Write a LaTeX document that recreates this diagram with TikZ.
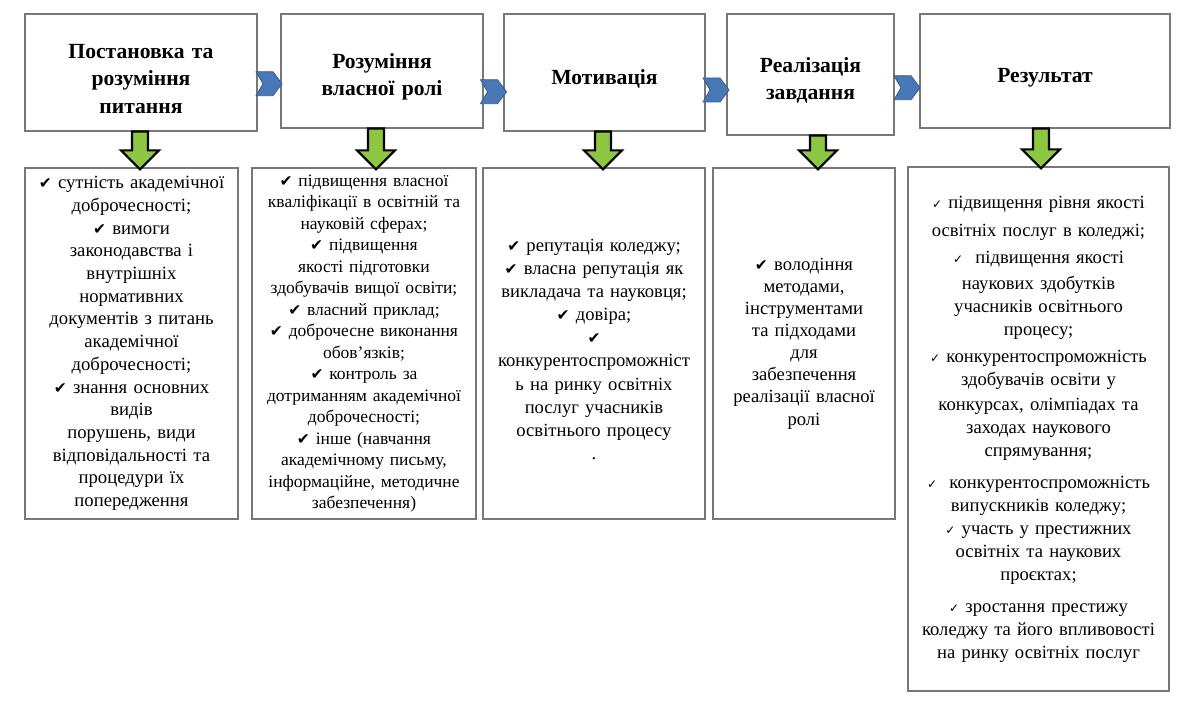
\documentclass[tikz,border=0pt]{standalone}
\usepackage{fontspec}
\setmainfont{Liberation Serif}
\newfontfamily\symf{DejaVu Sans}
\usetikzlibrary{calc}
\definecolor{boxgray}{RGB}{120,120,120}
\definecolor{chevfill}{RGB}{72,120,182}
\definecolor{chevdraw}{RGB}{56,93,138}
\definecolor{grfill}{RGB}{141,198,65}
\newcommand{\ck}{{\symf\fontsize{15.5}{15.5}\selectfont ✔}}
\newcommand{\cks}{{\symf\fontsize{12}{12}\selectfont ✓}}
\newcommand{\garrow}[3]{%
  \draw[garrowst] let \p1=($(#1.south)+(#3,0)$), \p2=(#2.north) in
   (\x1-8pt,\y1) -- (\x1+8pt,\y1) -- (\x1+8pt,\y2+17pt) -- (\x1+19pt,\y2+17pt)
   -- (\x1,\y2-2pt) -- (\x1-19pt,\y2+17pt) -- (\x1-8pt,\y2+17pt) -- cycle;}
\begin{document}
\begin{tikzpicture}[x=1pt,y=-1pt,
  topbox/.style={draw=boxgray, line width=1.2pt, fill=white, align=center,
    font=\fontsize{21.6}{27.5}\selectfont\bfseries, inner sep=2pt,
    execute at begin node={\rule{0pt}{27pt}}},
  botbox/.style={draw=boxgray, line width=1.2pt, fill=white, align=center, inner sep=2pt},
  garrowst/.style={draw=black, line width=2.2pt, fill=grfill, line join=miter},
  chevst/.style={draw=chevdraw, line width=0.8pt, fill=chevfill, line join=miter},
  chev/.pic={\path[chevst] (-13,-12) -- (4,-12) -- (13,0) -- (4,12) -- (-13,12) -- (-6,0) -- cycle;}
]
\useasboundingbox (0,0) rectangle (1200,708);

% top boxes
\node[topbox, text width=228pt, minimum height=117pt] (t1) at (141,72.5) {Постановка та\\розуміння\\питання};
\node[topbox, text width=198pt, minimum height=114pt] (t2) at (382,71) {Розуміння\\власної ролі};
\node[topbox, text width=197pt, minimum height=117pt] (t3) at (604.5,72.5) {Мотивація};
\node[topbox, text width=163pt, minimum height=121pt] (t4) at (810.5,74.5) {Реалізація\\завдання};
\node[topbox, text width=246pt, minimum height=114pt] (t5) at (1045,71) {Результат};

% bottom boxes
\node[botbox, text width=209pt, minimum height=351pt, font=\fontsize{18.7}{22.7}\selectfont] (b1) at (131.5,343.5)
{\ck\ сутність академічної\\доброчесності;\\\ck\ вимоги\\законодавства і\\внутрішніх\\нормативних\\документів з питань\\академічної\\доброчесності;\\\ck\ знання основних\\видів\\порушень, види\\відповідальності та\\процедури їх\\попередження};

\node[botbox, text width=220pt, minimum height=351pt, font=\fontsize{17.5}{21.5}\selectfont] (b2) at (364,343.5)
{\ck\ підвищення власної\\кваліфікації  в освітній та\\науковій сферах;\\\ck\ підвищення\\якості підготовки\\здобувачів вищої освіти;\\\ck\ власний приклад;\\\ck\ доброчесне виконання\\обов'язків;\\\ck\ контроль за\\дотриманням академічної\\доброчесності;\\\ck\ інше (навчання\\академічному письму,\\інформаційне, методичне\\забезпечення)};

\node[botbox, text width=218pt, minimum height=351pt, font=\fontsize{18.6}{23.1}\selectfont] (b3) at (594,343.5)
{\rule{0pt}{24pt}\ck\ репутація коледжу;\\\ck\ власна репутація як\\викладача та науковця;\\\ck\ довіра;\\\ck\\конкурентоспроможніст\\ь на ринку освітніх\\послуг учасників\\освітнього процесу\\.};

\node[botbox, text width=178pt, minimum height=351pt, font=\fontsize{18.6}{22.1}\selectfont] (b4) at (804,343.5)
{\ck\ володіння\\методами,\\інструментами\\та підходами\\для\\забезпечення\\реалізації власної\\ролі};

\node[botbox, text width=257pt, minimum height=524pt, font=\fontsize{18.6}{23}\selectfont] (b5) at (1038.5,429)
{\cks\ підвищення рівня якості\\[5pt]освітніх послуг в коледжі;\\[4pt]\cks\ \ підвищення якості\\[3pt]наукових здобутків\\учасників освітнього\\процесу;\\[4pt]\cks\ конкурентоспроможність\\здобувачів освіти у\\[2pt]конкурсах, олімпіадах та\\заходах наукового\\спрямування;\\[9pt]\cks\ \ конкурентоспроможність\\випускників коледжу;\\\cks\ участь у престижних\\освітніх та наукових\\проєктах;\\[9pt]\cks\ зростання престижу\\коледжу та його впливовості\\на ринку освітніх послуг};

% chevrons between top boxes
\pic at ($(t1.east)!0.5!(t2.west)+(0,12)$) {chev};
\pic at ($(t2.east)!0.5!(t3.west)+(0,20)$) {chev};
\pic at ($(t3.east)!0.5!(t4.west)+(0,16.5)$) {chev};
\pic at ($(t4.east)!0.5!(t5.west)+(0,15)$) {chev};

% green arrows
\garrow{t1}{b1}{-1}
\garrow{t2}{b2}{-6}
\garrow{t3}{b3}{-1.5}
\garrow{t4}{b4}{7.5}
\garrow{t5}{b5}{-4}
\end{tikzpicture}
\end{document}
